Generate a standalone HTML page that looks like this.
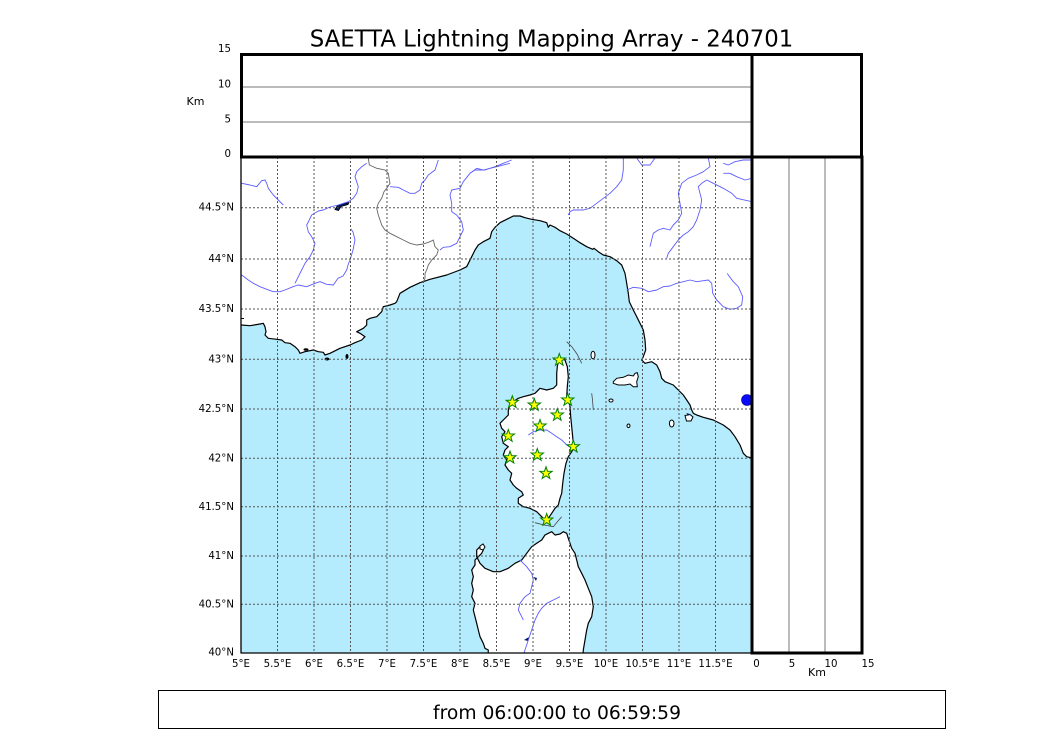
<!DOCTYPE html>
<html><head><meta charset="utf-8"><style>
html,body{margin:0;padding:0;background:#fff;}
svg{display:block;}
text{font-family:"DejaVu Sans","Liberation Sans",sans-serif;fill:#000;}
</style></head><body>
<svg width="1050" height="750" viewBox="0 0 1050 750" xmlns="http://www.w3.org/2000/svg">
<defs>
<clipPath id="mc"><rect x="241" y="157" width="511" height="496"/></clipPath>
<polygon id="st" points="0,-6.5 1.53,-2.1 6.18,-2.01 2.47,0.8 3.82,5.26 0,2.6 -3.82,5.26 -2.47,0.8 -6.18,-2.01 -1.53,-2.1" fill="#ffff00" stroke="#008000" stroke-width="1"/>
</defs>
<rect width="1050" height="750" fill="#fff"/>
<text x="551.5" y="46.5" font-size="22.8" text-anchor="middle">SAETTA Lightning Mapping Array - 240701</text>

<g clip-path="url(#mc)">
<!-- sea -->
<path fill="#b5ecfd" stroke="#000" stroke-width="1.2" stroke-linejoin="round" d="M241,325 L250,325.7 L260,324 L263.3,323.3 L265,326.7 L266,331.7 L265,335 L268.3,338.3 L276.7,339.3 L281.7,340 L285,342.7 L290,343.3 L295,346.7 L298.3,350 L300,353.3 L305,351.7 L313.3,350 L318.3,351.7 L323.3,352.3 L325,355 L330,353.3 L340,348.3 L350,345 L355,342.7 L361.7,340 L365,336.7 L360,333.3 L356.7,331.7 L363.3,328.3 L366.7,325 L366.7,320 L370,318.3 L376.7,316.7 L381.7,311.7 L383.3,306.7 L390,305 L395,303.3 L396.7,301.7 L400,293.3 L410,287.3 L420,282.7 L430,279.3 L446.7,275 L460,270 L466.7,266.7 L471.7,256.7 L475,250 L478.3,245 L483.3,241.7 L490,238.3 L491.7,231.7 L495,227.3 L500,222.7 L506.7,219.3 L513.3,216 L520,216 L525,217.7 L531.7,219.3 L540,220.7 L546.7,222.7 L548.3,227.3 L550,225 L555,227.3 L560,230.7 L566.7,234 L573.3,238.3 L580,242.7 L586.7,246.7 L592.7,249.3 L594,248.3 L598.3,251.7 L603.3,255 L610,256.7 L616.7,260.7 L621.7,265 L625,273.3 L626.7,283.3 L628.3,293.3 L629.3,301.7 L633.3,310 L636.7,316.7 L640,323.3 L643.3,330 L645,340 L645.7,350 L643.3,356.7 L641.7,360 L645,363.3 L651.7,361.7 L656.7,365 L660,371.7 L661.7,378.3 L665,381.7 L673.3,385 L678.3,390 L683.3,395 L686.7,400 L690,405 L691.7,410 L693.3,413.3 L696.7,415 L703.3,417.3 L713.3,420 L723.3,425 L730,430 L735,436.7 L740,445 L743.3,453.3 L746.7,456.7 L753,458.3 L753,660 L236,660 L236,325 Z"/>
<!-- Corsica -->
<path fill="#fff" stroke="#000" stroke-width="1.2" stroke-linejoin="round" d="M560,358.3 L565,360 L567.3,366.7 L568.3,376.7 L567.3,386.7 L566.7,396.7 L568.3,400 L570,406.7 L570.7,416.7 L571.7,426.7 L573.3,443.3 L575,446.7 L571.7,451.7 L568.3,456.7 L566,463.3 L564,473.3 L562.7,483.3 L561.7,493.3 L560,498.3 L558.3,505 L555,508.3 L551.7,513.3 L548.3,518.3 L546.7,521.7 L545,520 L541.7,516.7 L536.7,511.7 L530,508.3 L523.3,506.7 L518.3,503.3 L518.3,498.3 L523.3,495 L521.7,491.7 L516.7,488.3 L513.3,485 L510,480 L511.7,473.3 L508.3,470 L505,465 L506.7,460 L503.3,455 L505,450 L508.3,446.7 L503.3,443.3 L501.7,436.7 L505,431.7 L501.7,428.3 L500,423.3 L503.3,420 L508.3,415 L508.3,410 L510,405 L513.3,401.7 L518.3,398.3 L523.3,396.7 L530,395 L535,393.3 L540,388.3 L546.7,390 L553.3,388.3 L556.7,385 L556.7,373.3 L557.3,366.7 L558.3,361.7 Z"/>
<!-- Sardinia -->
<path fill="#fff" stroke="#000" stroke-width="1.2" stroke-linejoin="round" d="M548.3,533.3 L551.7,531.7 L555,535 L560,534 L563.3,531.7 L566.7,533.3 L568.3,538.3 L570,543.3 L571.7,548.3 L575,553.3 L576.7,560 L578.3,566.7 L581.7,573.3 L585,580 L588.3,588.3 L591.7,596.7 L593.3,606.7 L591.7,616.7 L588.3,623.3 L586.7,630 L585,640 L583.3,650 L582.7,660 L488,660 L488.3,650 L485,648.3 L483.3,643.3 L480,636.7 L478.3,630 L476.7,623.3 L475,616.7 L473.3,610 L475,603.3 L471.7,596.7 L473.3,590 L471.7,583.3 L473.3,576.7 L471.7,570 L475,565 L475,560 L478.3,556.7 L481.7,553.3 L483.3,550 L480,546.7 L476.7,550 L476.7,556.7 L480,563.3 L485,568.3 L493.3,571.7 L500,571.7 L508.3,568.3 L515,563.3 L521.7,560 L526.7,553.3 L531.7,546.7 L536.7,543.3 L541.7,540 L545,535 Z"/>
<path fill="#fff" stroke="#000" stroke-width="1" d="M480,546 L483,544 L485,547 L483,550 L480,549 Z"/>
<!-- islands -->
<path fill="#fff" stroke="#000" stroke-width="1" d="M613.3,381.7 L616.7,378.3 L623.3,377.3 L628.3,375 L633.3,376 L635,373.3 L637.3,372.7 L638.3,376.7 L636.7,381.7 L637.3,386.7 L633.3,386.7 L630,384 L625,385 L618.3,385 L613.3,383.3 Z"/>
<ellipse cx="593" cy="355" rx="2" ry="3.8" fill="#fff" stroke="#000" stroke-width="1"/>
<ellipse cx="611" cy="400.5" rx="2" ry="1.5" fill="#fff" stroke="#000" stroke-width="1"/>
<ellipse cx="628.5" cy="425.8" rx="1.5" ry="1.8" fill="#fff" stroke="#000" stroke-width="1"/>
<ellipse cx="671.7" cy="423.5" rx="2.3" ry="3.5" fill="#fff" stroke="#000" stroke-width="1"/>
<path fill="#fff" stroke="#000" stroke-width="1" d="M685,415.5 L690,414.5 L693,417 L691,421 L686.5,421 Z"/>
<path fill="#001060" d="M686.5,413 L689,413.8 L688,416 Z"/>
<!-- Hyeres islands -->
<ellipse cx="306" cy="349.5" rx="2.5" ry="1.3" fill="#000"/>
<ellipse cx="327" cy="359" rx="2.5" ry="1.5" fill="#000"/>
<ellipse cx="347" cy="356.5" rx="1.5" ry="2.5" fill="#000"/>
<!-- lakes -->
<path fill="#001a66" stroke="#000" stroke-width="0.8" d="M335,209.5 L337.5,205.5 L344,203.5 L349,202.5 L348,204.5 L341,206.5 L338.5,210.5 Z"/>
<ellipse cx="747" cy="400" rx="5.5" ry="5.5" fill="#0a0aff" stroke="#000080" stroke-width="0.6"/>
<path fill="#001a66" d="M533.5,577 L537,578 L536,581 Z"/>
<path fill="#001a66" d="M524,640 L529,637 L528,641 Z"/>
<!-- rivers -->
<g fill="none" stroke="#5c5cff" stroke-width="0.9" stroke-linejoin="round">
<polyline points="241.7,183.3 250,185 256.7,186.7 261.7,180.7 265,180 266.7,183.3 268.3,188.3 273.3,195 278.3,200 283.3,205"/>
<polyline points="366.7,163.3 361.7,166.7 356.7,171.7 355,176.7 356.7,181.7 358.3,186.7 356.7,193.3 353.3,198.3 348.3,201.7 343.3,203.3 338.3,205 330,207 323.3,210 318.3,211 311.7,215 309.3,220 306.7,225 308.3,231.7 311.7,236.7 315,243.3 313.3,250 310,256.7 305,263.3 301.7,270 298.3,276.7 295,283.3"/>
<polyline points="241.7,275 248.3,280 253.3,283.3 260,286.7 266.7,289.3 273.3,291.7 280,291.7 285,290 293,286.7 298,285 306.7,286.7 315,283.3 320,281.7 326.7,284.3 333.3,285 338,278.3 343,276 346.7,270 348,265 350,260 353,250 355,240 353,232 351,229"/>
<polyline points="510,163.3 496.7,166.7 483.3,170 476.7,168.3 470,173.3 463.3,181.7 460,188.3 451.7,190 450,195 451.7,203.3 451.7,211.7 456.7,215 461.7,221.7 463.3,230 460,236.7 456.7,243.3 450,246.7 443.3,247.3 440,250"/>
<polyline points="438.3,160 435,170 428.3,175 425,180 421.7,183.3 420,190 415,193.3 410,193.3 403.3,190 398.3,187.3 390,186.7"/>
<polyline points="470,173.3 475,170 485,170 495,166.7 503.3,163.3 511.7,160"/>
<polyline points="623.3,158 623.3,170 621.7,180 616.7,186.7 610,193.3 603.3,198.3 596.7,203.3 590,208.3 583.3,210 573.3,210 570,211.7 568.3,215"/>
<polyline points="636.7,158 641.7,165 650,165 655,158"/>
<polyline points="708.3,158 710,166.7 703.3,171.7 696.7,175 688.3,178.3 681.7,183.3 678.3,193.3 680,203.3 681.7,213.3 678.3,220 673.3,225 670,230 663.3,228.3 658.3,230 653.3,233.3 650,246.7"/>
<polyline points="723.3,163.3 728.3,165 735,161.7 743.3,160 752,160"/>
<polyline points="723.3,173.3 730,173.3 736.7,176.7 745,180 752,178.3"/>
<polyline points="706.7,180 701.7,183.3 698.3,186.7 700,193.3 701.7,200 700,210 696.7,220 693.3,226.7 688.3,231.7 683.3,235 678.3,240 673.3,246.7 668.3,253.3 666.7,258.3"/>
<polyline points="706.7,180 713.3,183.3 723.3,188.3 731.7,193.3 736.7,198.3 752,201.7"/>
<polyline points="626.7,290 633.3,287.3 641.7,288.3 648.3,291.7 656.7,290 663.3,286.7 670,286 676.7,283.3 683.3,281.7 690,280 696.7,281.7 703.3,280.7 708.3,280 711.7,283.3 712.7,293.3 716.7,300 723.3,306.7 730,309.3 736.7,308.3 741.7,305 742.7,296.7 738.3,286.7 733.3,281.7 728.3,275 727.3,273.3"/>
<polyline points="528.3,435 533.3,431.7 540,430 546.7,430 551.7,433.3 556.7,436.7 561.7,440 566.7,445 571.7,448.3"/>
<polyline points="520,560 523.3,563.3 526.7,566.7 531.7,573.3 533.3,580 531.7,586.7 530,593.3 525,596.7 520,603.3 518.3,610 521.7,616.7 523.3,620"/>
<polyline points="560,596.7 553.3,600 546.7,603.3 541.7,608.3 538.3,613.3 535,620 531.7,630 528.3,640 525,650 523.3,655"/>
</g>
<!-- border -->
<polyline fill="none" stroke="#666" stroke-width="0.9" points="368.3,158 369.3,165 376.7,168.3 385,170 388.3,173.3 389.3,180 390,183.3 386.7,188.3 384,191.7 381.7,198.3 378.3,203.3 376.7,208.3 378.3,215 380,220 381.7,225 385,230 390,233.3 396.7,236.7 403.3,240 410,243.3 416.7,245 423.3,244 430,241.7 433.3,240 435,246.7 438.3,250 436.7,255 431.7,260 428.3,265 426.7,270 425,273.3 425,278.3 423.3,281.7"/>
<!-- dark thin lines -->
<g fill="none" stroke="#444" stroke-width="0.8">
<polyline points="566.7,341.7 572,347 577,354 581.7,363.3"/>
<polyline points="591.7,393.3 592.5,400 593.3,410"/>
<polyline points="535,522.7 544,525 553.3,526.7 558,521 561.7,516.7"/>
</g>
<!-- grid -->
<g stroke="#555" stroke-width="1" stroke-dasharray="2,2" fill="none">
<line x1="241" y1="207.7" x2="752" y2="207.7"/>
<line x1="241" y1="259" x2="752" y2="259"/>
<line x1="241" y1="309" x2="752" y2="309"/>
<line x1="241" y1="359.3" x2="752" y2="359.3"/>
<line x1="241" y1="409" x2="752" y2="409"/>
<line x1="241" y1="458.3" x2="752" y2="458.3"/>
<line x1="241" y1="506.7" x2="752" y2="506.7"/>
<line x1="241" y1="556" x2="752" y2="556"/>
<line x1="241" y1="604.3" x2="752" y2="604.3"/>
<line x1="277.5" y1="157" x2="277.5" y2="653"/>
<line x1="314" y1="157" x2="314" y2="653"/>
<line x1="350.5" y1="157" x2="350.5" y2="653"/>
<line x1="387" y1="157" x2="387" y2="653"/>
<line x1="423.5" y1="157" x2="423.5" y2="653"/>
<line x1="460" y1="157" x2="460" y2="653"/>
<line x1="496.5" y1="157" x2="496.5" y2="653"/>
<line x1="533" y1="157" x2="533" y2="653"/>
<line x1="569.5" y1="157" x2="569.5" y2="653"/>
<line x1="606" y1="157" x2="606" y2="653"/>
<line x1="642.5" y1="157" x2="642.5" y2="653"/>
<line x1="679" y1="157" x2="679" y2="653"/>
<line x1="715.5" y1="157" x2="715.5" y2="653"/>
</g>
<!-- stars -->
<use href="#st" x="559.3" y="360"/>
<use href="#st" x="512.3" y="402.3"/>
<use href="#st" x="534.3" y="405"/>
<use href="#st" x="567.7" y="400"/>
<use href="#st" x="557.3" y="415"/>
<use href="#st" x="540" y="426"/>
<use href="#st" x="508.3" y="436"/>
<use href="#st" x="573.3" y="446.7"/>
<use href="#st" x="510" y="457.7"/>
<use href="#st" x="537.3" y="455"/>
<use href="#st" x="546" y="473.3"/>
<use href="#st" x="546.7" y="520"/>
</g>
<!-- map frame thin -->
<line x1="241" y1="157" x2="241" y2="653.5" stroke="#000" stroke-width="1.3"/>
<line x1="241" y1="653" x2="752" y2="653" stroke="#000" stroke-width="1.3"/>
<line x1="241" y1="318.5" x2="244" y2="318.5" stroke="#000" stroke-width="1"/>

<!-- top panel -->
<line x1="241" y1="87" x2="752" y2="87" stroke="#777" stroke-width="1"/>
<line x1="241" y1="122" x2="752" y2="122" stroke="#777" stroke-width="1"/>
<rect x="241.5" y="54.5" width="620" height="102.5" fill="none" stroke="#000" stroke-width="3"/>
<line x1="752" y1="54" x2="752" y2="654" stroke="#000" stroke-width="3"/>
<!-- right panel -->
<line x1="789" y1="157" x2="789" y2="653" stroke="#777" stroke-width="1"/>
<line x1="825" y1="157" x2="825" y2="653" stroke="#777" stroke-width="1"/>
<rect x="752" y="157" width="110" height="496" fill="none" stroke="#000" stroke-width="3"/>

<!-- labels -->
<g font-size="10.2" text-anchor="end">
<text x="231" y="52">15</text>
<text x="231" y="87.5">10</text>
<text x="231" y="122.3">5</text>
<text x="231" y="157">0</text>
<text x="234" y="210.5">44.5°N</text>
<text x="234" y="262">44°N</text>
<text x="234" y="312">43.5°N</text>
<text x="234" y="362.5">43°N</text>
<text x="234" y="412">42.5°N</text>
<text x="234" y="461.5">42°N</text>
<text x="234" y="510">41.5°N</text>
<text x="234" y="559">41°N</text>
<text x="234" y="607.5">40.5°N</text>
<text x="234" y="655.5">40°N</text>
</g>
<text x="195.5" y="105" font-size="11" text-anchor="middle">Km</text>
<g font-size="10.2" text-anchor="middle">
<text x="241" y="667">5°E</text>
<text x="277.5" y="667">5.5°E</text>
<text x="314" y="667">6°E</text>
<text x="350.5" y="667">6.5°E</text>
<text x="387" y="667">7°E</text>
<text x="423.5" y="667">7.5°E</text>
<text x="460" y="667">8°E</text>
<text x="496.5" y="667">8.5°E</text>
<text x="533" y="667">9°E</text>
<text x="569.5" y="667">9.5°E</text>
<text x="606" y="667">10°E</text>
<text x="642.5" y="667">10.5°E</text>
<text x="679" y="667">11°E</text>
<text x="715.5" y="667">11.5°E</text>
<text x="756.5" y="667">0</text>
<text x="792" y="667">5</text>
<text x="831" y="667">10</text>
<text x="868" y="667">15</text>
</g>
<text x="817" y="676" font-size="11" text-anchor="middle">Km</text>

<!-- bottom box -->
<rect x="158.5" y="690.5" width="787" height="38" fill="none" stroke="#000" stroke-width="1"/>
<text x="557" y="719" font-size="18.7" text-anchor="middle">from 06:00:00 to 06:59:59</text>
</svg>
</body></html>
